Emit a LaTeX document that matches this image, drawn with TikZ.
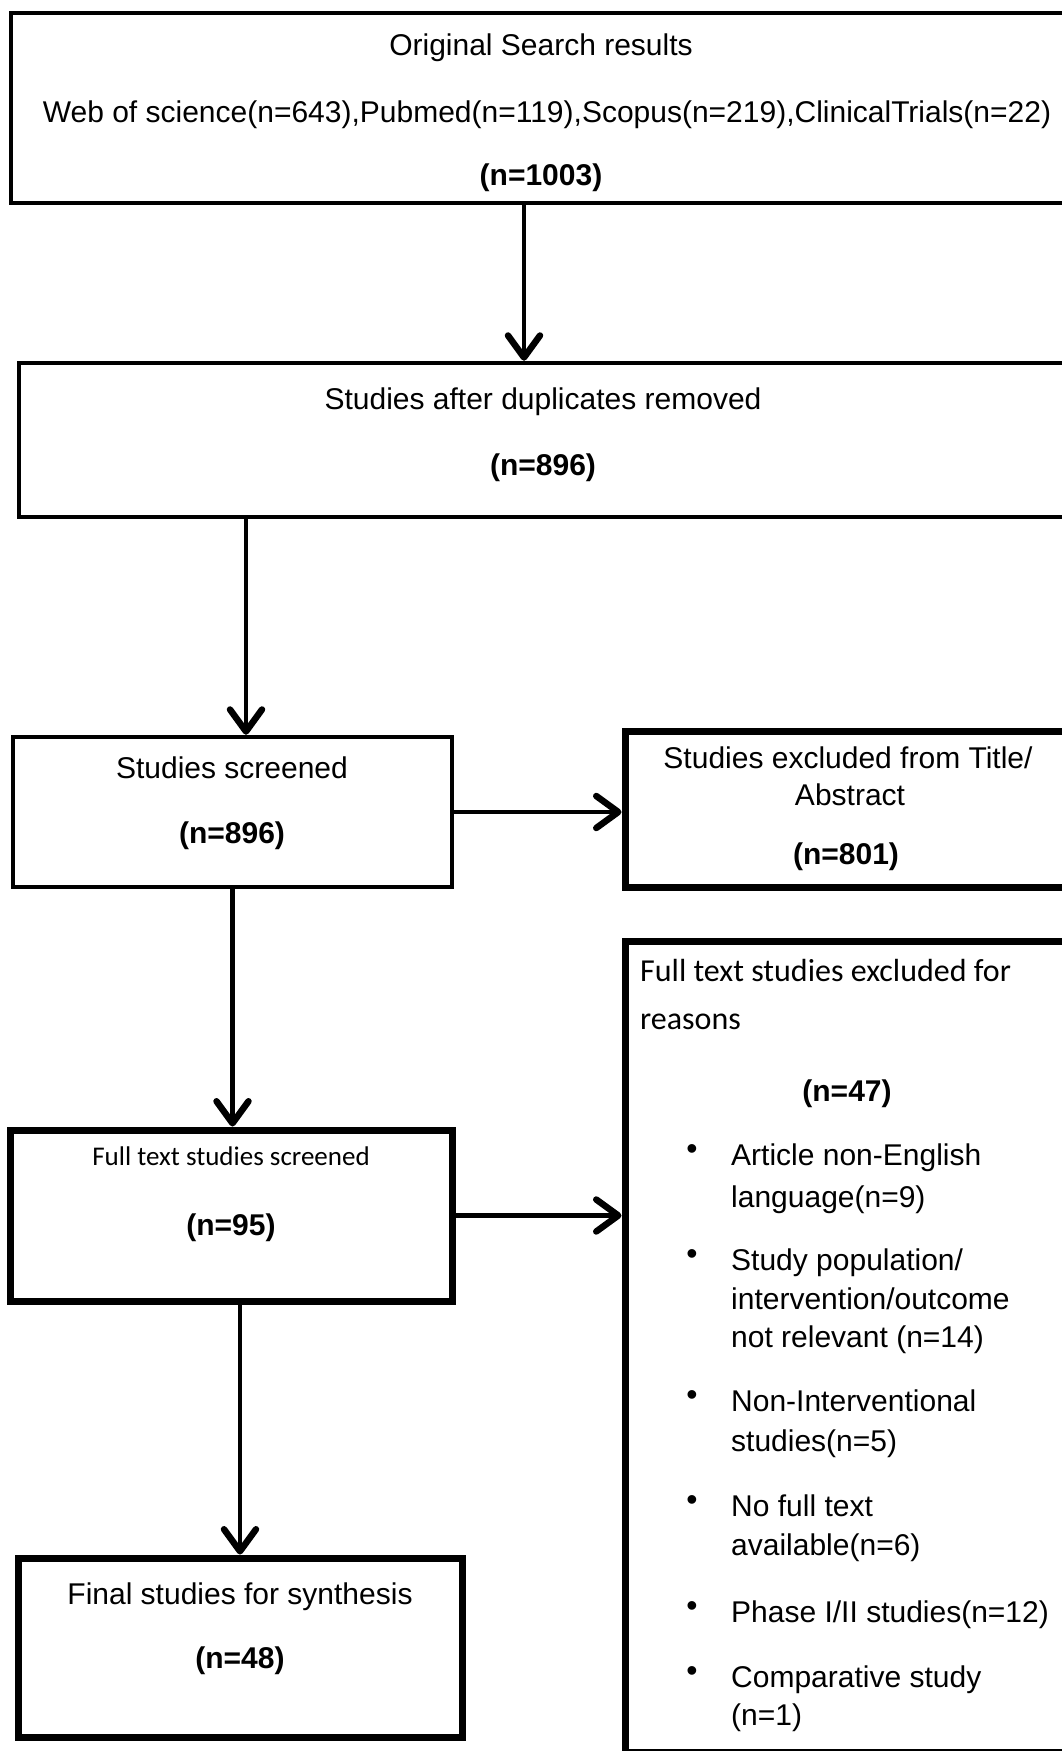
\documentclass[tikz,border=0pt]{standalone}
\usepackage{fontspec}
\setmainfont{Liberation Sans}
\newfontfamily\calfont{Carlito}
\usetikzlibrary{arrows.meta}

\begin{document}
\begin{tikzpicture}[x=1pt,y=-1pt,
  box/.style={draw,line width=4.5pt,inner sep=0pt},
  thick box/.style={box,line width=7pt},
  lbl/.style={inner sep=0pt,anchor=base,font=\fontsize{30}{36}\selectfont},
  bld/.style={lbl,font=\fontsize{30}{36}\selectfont\bfseries},
  cal/.style={inner sep=0pt,anchor=base west,font=\fontsize{32}{38}\selectfont\calfont},
  itm/.style={lbl,anchor=base west},
  dot/.style={lbl,font=\fontsize{32}{38}\selectfont},
  arr/.style={line width=4.5pt,-{Straight Barb[round,length=22pt,width=32pt,line width=6.5pt]}}]
\clip (0,0) rectangle (1062,1751);
\node[box,minimum width=1064pt,minimum height=190pt] (b1) at (543,108) {};
\node[box,minimum width=1056pt,minimum height=154pt] (b2) at (547,440) {};
\node[box,minimum width=439pt,minimum height=150pt] (b3) at (232.5,812) {};
\node[thick box,minimum width=450pt,minimum height=156pt] (b4) at (850,809) {};
\node[thick box,minimum width=442pt,minimum height=171pt] (b5) at (231,1215.5) {};
\node[thick box,minimum width=450pt,minimum height=811pt] (b6) at (850,1346.5) {};
\node[thick box,minimum width=444pt,minimum height=179pt] (b7) at (240,1647.5) {};
\coordinate (c1) at (524,0);
\coordinate (c2) at (246,0);

\node[lbl] (t1) at (541,55) {Original Search results};
\node[lbl] (t2) at (547,122) {Web of science(n=643),Pubmed(n=119),Scopus(n=219),ClinicalTrials(n=22)};
\node[bld] (t3) at (541,185) {(n=1003)};
\node[lbl] (t4) at (543,409) {Studies after duplicates removed};
\node[bld] (t5) at (543,475) {(n=896)};
\node[lbl] (t6) at (232,778) {Studies screened};
\node[bld] (t7) at (232,843) {(n=896)};
\node[lbl] (t8) at (848,768) {Studies excluded from Title/};
\node[lbl] (t9) at (850,805) {Abstract};
\node[bld] (t10) at (846,864) {(n=801)};
\node[lbl,font=\fontsize{27}{32}\selectfont\calfont] (t11) at (231,1165) {Full text studies screened};
\node[bld] (t12) at (231,1235) {(n=95)};
\node[lbl] (t13) at (240,1604) {Final studies for synthesis};
\node[bld] (t14) at (240,1668) {(n=48)};
\node[cal] (t15) at (640,981) {Full text studies excluded for};
\node[cal] (t16) at (640,1029) {reasons};
\node[bld] (t17) at (847,1101) {(n=47)};

\foreach \y [count=\i] in {1159,1264,1405,1510,1616,1681}
  \node[dot] (d\i) at (692,\y) {•};
\foreach \y/\t [count=\i] in {1165/{Article non-English},1207/{language(n=9)},
  1270/{Study population/},1309/{intervention/outcome},1347/{not relevant (n=14)},
  1411/{Non-Interventional},1451/{studies(n=5)},1516/{No full text},
  1555/{available(n=6)},1622/{Phase I/II studies(n=12)},1687/{Comparative study},1725/{(n=1)}}
  \node[itm] (r\i) at (731,\y) {\t};

\draw[arr] (b1.south -| c1) -- (b2.north -| c1);
\draw[arr] (b2.south -| c2) -- (b3.north -| c2);
\draw[arr] (b3.east) -- (b3.east -| b4.west);
\draw[arr] (b3.south) -- (b3.south |- b5.north);
\draw[arr] (b5.east) -- (b5.east -| b6.west);
\draw[arr] (b5.south -| b7) -- (b7.north);
\end{tikzpicture}
\end{document}
